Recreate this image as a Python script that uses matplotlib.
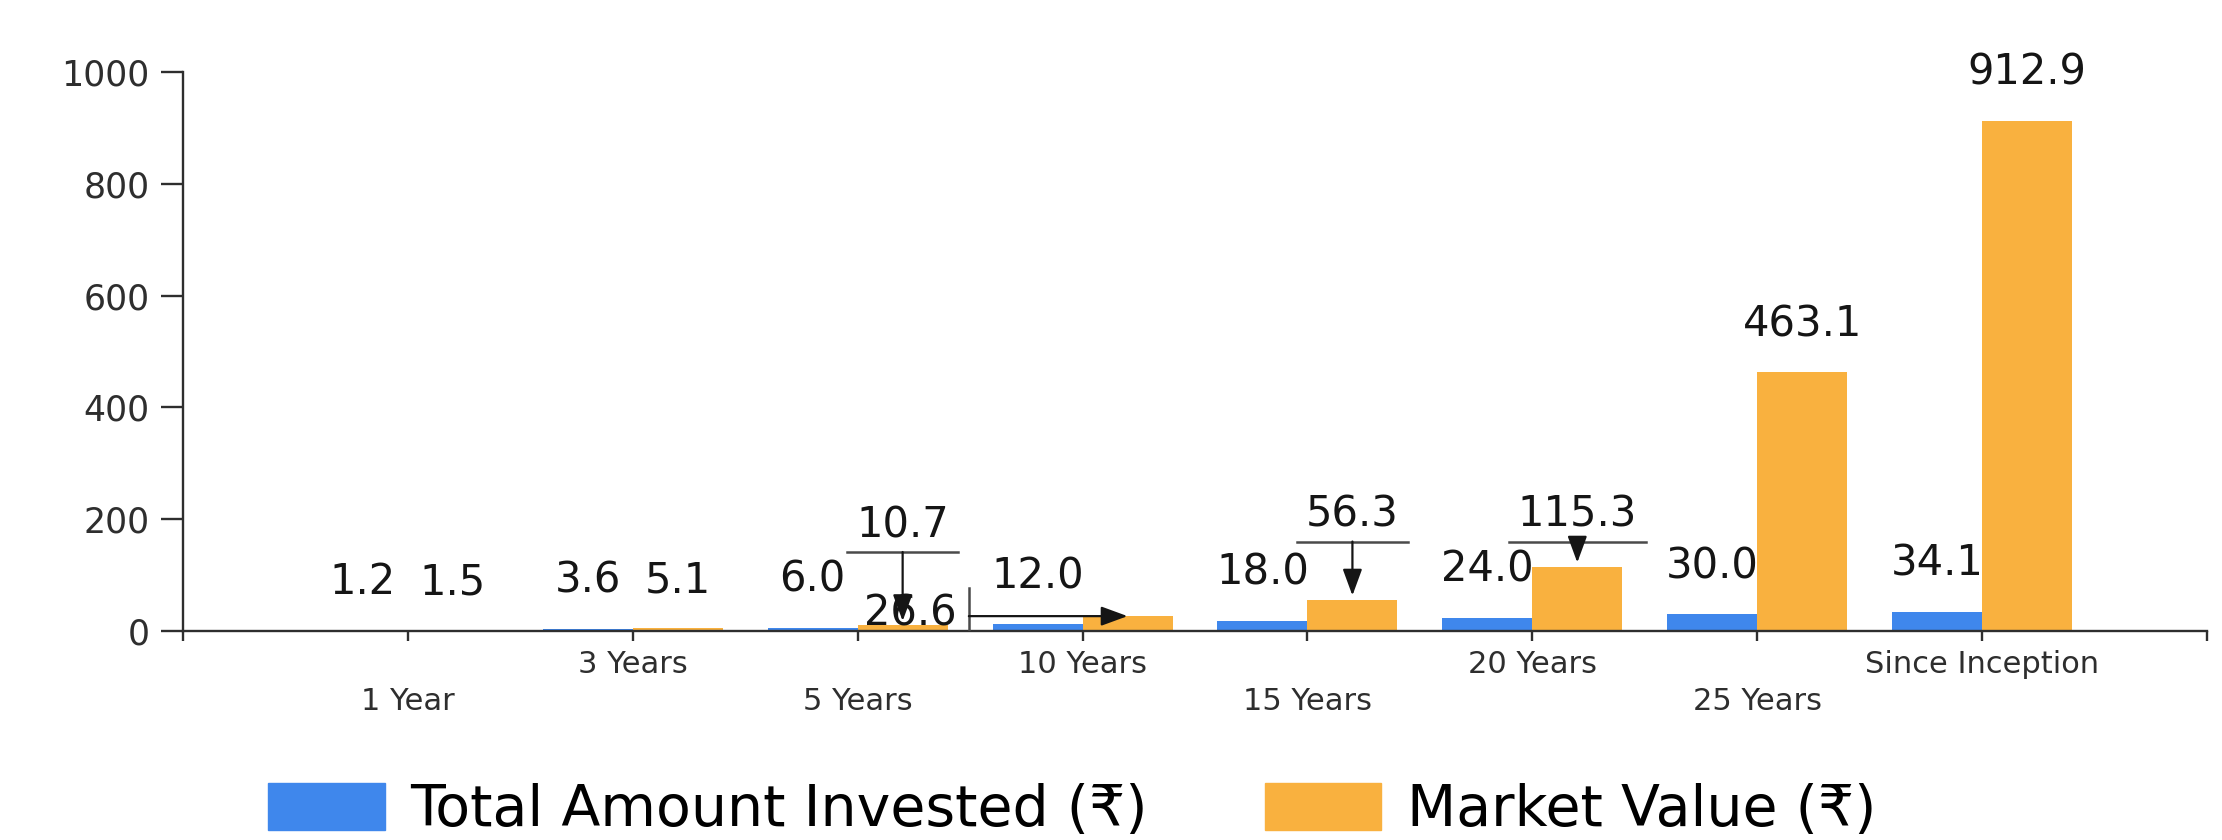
import matplotlib
matplotlib.use("Agg")
import matplotlib.pyplot as plt
from matplotlib.patches import Patch

# ---- data ----
periods = ["1 Year", "3 Years", "5 Years", "10 Years", "15 Years",
           "20 Years", "25 Years", "Since Inception"]
invested = [1.2, 3.6, 6.0, 12.0, 18.0, 24.0, 30.0, 34.1]
market_value = [1.5, 5.1, 10.7, 26.6, 56.3, 115.3, 463.1, 912.9]
y_ticks = [0, 200, 400, 600, 800, 1000]
legend_labels = ["Total Amount Invested (₹)", "Market Value (₹)"]

# market value labels that were pushed aside with leader lines in the source:
# period index -> (label dx, label baseline dy) in pixels from the bar top
callouts = {2: (0, 88), 3: (-217, -9), 4: (0, 73), 5: (0, 40)}

BLUE = "#3f87ec"
ORANGE = "#f9b13f"
INK = "#151515"
AXIS = "#2e2e2e"

plt.rcParams["font.family"] = ["DejaVu Sans", "Noto Sans"]

W, H = 2222, 840
fig = plt.figure(figsize=(W / 100, H / 100), dpi=100)
ax = fig.add_axes([183 / W, 209 / H, (2207 - 183) / W, (631 - 72) / H])

bar_w = 0.4
xs = list(range(len(periods)))
ax.bar([x - bar_w / 2 for x in xs], invested, width=bar_w, color=BLUE, zorder=2)
ax.bar([x + bar_w / 2 for x in xs], market_value, width=bar_w, color=ORANGE, zorder=2)

ax.set_xlim(-1, len(periods))
ax.set_ylim(0, 1000)
ax.set_yticks(y_ticks)
ax.set_xticks(range(-1, len(periods) + 1), [""] + periods + [""])

for side in ("top", "right"):
    ax.spines[side].set_visible(False)
for side in ("left", "bottom"):
    ax.spines[side].set_color(AXIS)
    ax.spines[side].set_linewidth(1.7)

ax.tick_params(axis="y", length=16, width=1.7, color=AXIS, pad=8,
               labelsize=25, labelcolor=AXIS)
ax.tick_params(axis="x", length=7, width=1.7, color=AXIS,
               labelsize=22, labelcolor=AXIS)
# staggered category labels
for i, tick in enumerate(ax.xaxis.get_major_ticks()[1:-1]):
    tick.set_pad(33 if i % 2 == 0 else 6.5)


def shifted(x, y, dx, dy):
    px, py = ax.transData.transform((x, y))
    return ax.transData.inverted().transform((px + dx, py + dy))


renderer = fig.canvas.get_renderer()
label_kw = dict(ha="center", va="baseline", fontsize=30, color=INK, zorder=4)

for i, v in enumerate(invested):
    ax.text(*shifted(i - bar_w / 2, v, 0, 36), f"{v:.1f}", **label_kw)

for i, v in enumerate(market_value):
    x = i + bar_w / 2
    if i not in callouts:
        ax.text(*shifted(x, v, 0, 36), f"{v:.1f}", **label_kw)
        continue
    dx, dy = callouts[i]
    t = ax.text(*shifted(x, v, dx, dy), f"{v:.1f}", **label_kw)
    bb = t.get_window_extent(renderer)
    arrow = dict(arrowstyle="-|>,head_length=0.9,head_width=0.33",
                 color=INK, lw=1.6, mutation_scale=18, shrinkA=0, shrinkB=0)
    if dx == 0:
        # underline below the label, arrow down onto the bar
        half = bb.width / 2 + 9
        a = shifted(x, v, -half, dy - 15)
        b = shifted(x, v, half, dy - 15)
        ax.plot([a[0], b[0]], [a[1], b[1]], color="#4a4a4a", lw=1.8, zorder=4)
        ax.annotate("", xy=shifted(x, v, 0, 4), xytext=shifted(x, v, 0, dy - 15),
                    arrowprops=arrow, zorder=4)
    else:
        # vertical bar right of the label, arrow across to the bar
        gap = bb.x1 + 12 - ax.transData.transform((x, v))[0]
        a = shifted(x, v, gap, 28)
        b = shifted(x, v, gap, -27)
        ax.plot([a[0], b[0]], [a[1], b[1]], color="#4a4a4a", lw=1.8, zorder=4)
        ax.annotate("", xy=shifted(x, v, 0, 0), xytext=shifted(x, v, gap, 0),
                    arrowprops=arrow, zorder=4)

handles = [Patch(color=BLUE), Patch(color=ORANGE)]
fig.legend(handles, legend_labels, loc="upper left",
           bbox_to_anchor=(268 / W, 1 - 783 / H), ncol=2, frameon=False,
           fontsize=41, handlelength=2.05, handleheight=0.9, handletextpad=0.45,
           columnspacing=2.05, borderpad=0, borderaxespad=0)

fig.savefig("out.png", dpi=100)
